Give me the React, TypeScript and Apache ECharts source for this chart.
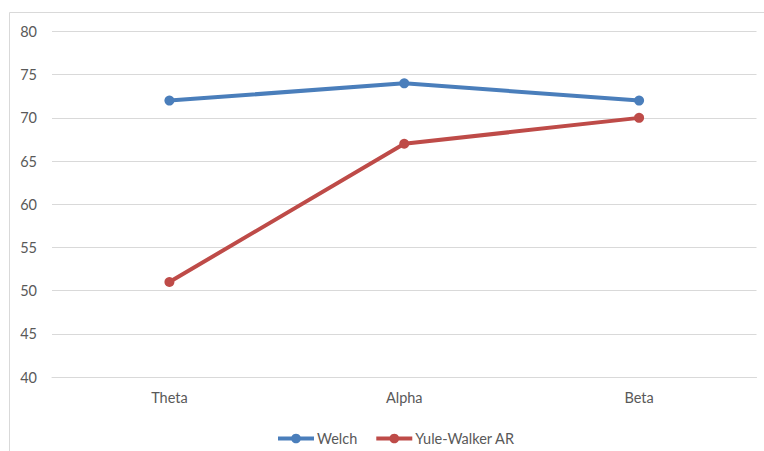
import React, { useEffect, useRef } from "react";
import * as echarts from "echarts";

const categories = ["Theta", "Alpha", "Beta"];
const welch = [72, 74, 72];
const yuleWalker = [51, 67, 70];
const seriesNames = ["Welch", "Yule-Walker AR"];

export default function App() {
  const ref = useRef<HTMLDivElement>(null);
  useEffect(() => {
    document.body.style.margin = "0";
    const chart = echarts.init(ref.current!, undefined, { renderer: "svg" });
    const font = "Lato, 'Open Sans', sans-serif";
    chart.setOption({
      animation: false,
      backgroundColor: "#ffffff",
      graphic: [
        {
          type: "rect",
          shape: { x: 9.5, y: 12.5, width: 800, height: 500 },
          style: { fill: "none", stroke: "#d9d9d9", lineWidth: 1 },
          silent: true,
        },
      ],
      grid: { left: 52, right: 7.5, top: 31.5, bottom: 74 },
      legend: {
        data: seriesNames,
        left: 271,
        top: 426,
        itemWidth: 36,
        itemHeight: 12,
        itemGap: 17,
        lineStyle: { width: 4 },
        textStyle: { color: "#595959", fontSize: 14.5, fontFamily: font, padding: [0, 0, 0, -2] },
      },
      xAxis: {
        type: "category",
        data: categories,
        boundaryGap: true,
        axisLine: { lineStyle: { color: "#d9d9d9", width: 1 } },
        axisTick: { show: false },
        axisLabel: { color: "#595959", fontSize: 14.5, fontFamily: font, margin: 13 },
      },
      yAxis: {
        type: "value",
        min: 40,
        max: 80,
        interval: 5,
        axisLine: { show: false },
        axisTick: { show: false },
        axisLabel: { color: "#595959", fontSize: 14.5, fontFamily: font, margin: 15 },
        splitLine: { lineStyle: { color: "#d9d9d9", width: 1 } },
      },
      series: [
        {
          name: seriesNames[0],
          type: "line",
          data: welch,
          symbol: "circle",
          symbolSize: 10,
          lineStyle: { color: "#4a7ebb", width: 4 },
          itemStyle: { color: "#4a7ebb" },
        },
        {
          name: seriesNames[1],
          type: "line",
          data: yuleWalker,
          symbol: "circle",
          symbolSize: 10,
          lineStyle: { color: "#be4b48", width: 4 },
          itemStyle: { color: "#be4b48" },
        },
      ],
    });
    return () => chart.dispose();
  }, []);
  return <div ref={ref} style={{ width: 764, height: 451 }} />;
}
